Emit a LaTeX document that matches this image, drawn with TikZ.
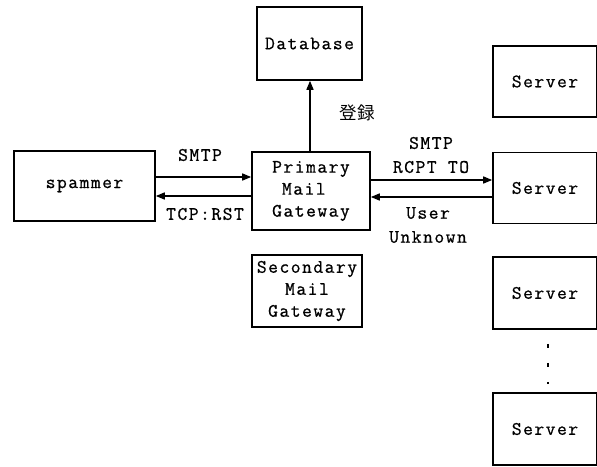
\documentclass[tikz,border=0pt]{standalone}
\usepackage{fontspec}
\setmonofont[LetterSpace=8,FakeBold=0.8]{Latin Modern Mono}
\newfontfamily\jpfont{Noto Sans CJK JP}
\usetikzlibrary{arrows.meta,calc}

\tikzset{
  box/.style={draw, line width=1.6pt, inner sep=0pt,
    font=\ttfamily\fontsize{19}{22}\selectfont, align=center},
  lbl/.style={inner sep=0pt, font=\ttfamily\fontsize{19}{24}\selectfont, align=center},
  arr/.style={line width=1.5pt, -{Triangle[length=9pt,width=7pt]}},
}

\begin{document}
\begin{tikzpicture}[x=1pt, y=-1pt]
  \useasboundingbox (0,0) rectangle (597,466);

  % main boxes
  \node[box, minimum width=141pt, minimum height=70pt] (spam) at (84.5,186) {spammer};
  \node[box, minimum width=118pt, minimum height=78pt, align=left] (prim) at (311,191)
    {Primary\\\hphantom{M}Mail\\Gateway};
  \node[box, minimum width=105pt, minimum height=73pt] (db) at (309.5,43.5) {Database};
  \node[box, minimum width=110pt, minimum height=72pt] (sec) at (307,291)
    {Secondary\\Mail\\Gateway};

  % column of servers (running off the right edge)
  \node[box, minimum width=104pt, minimum height=71pt] (s1) at (545,81.5) {Server};
  \node[box, minimum width=104pt, minimum height=71pt] (s2) at (545,188) {Server};
  \node[box, minimum width=104pt, minimum height=72pt] (s3) at (545,293) {Server};
  \node[box, minimum width=104pt, minimum height=72pt] (s4) at (545,429) {Server};

  % vertical ellipsis between the last servers
  \draw[line width=2.2pt, dash pattern=on 4pt off 15pt]
    ($(s3.south)+(3,14)$) -- ($(s4.north)+(3,-8)$);

  % arrow rows
  \coordinate (ya) at (0,177);
  \coordinate (yb) at (0,196);
  \coordinate (yc) at (0,180);
  \coordinate (yd) at (0,197);

  \draw[arr] (spam.east |- ya) -- (prim.west |- ya);
  \draw[arr] (prim.west |- yb) -- (spam.east |- yb);
  \draw[arr] (prim.east |- yc) -- (s2.west |- yc);
  \draw[arr] (s2.west |- yd) -- (prim.east |- yd);
  \draw[arr] ([xshift=-1pt]prim.north) -- ([xshift=-1pt]prim.north |- db.south);

  % labels
  \node[lbl] (l1) at (200,155) {SMTP};
  \node[lbl] (l2) at (205,214) {TCP:RST};
  \node[lbl] (l3) at (431,155) {SMTP\\RCPT TO};
  \node[lbl] (l4) at (428,225) {User\\Unknown};
  \node[inner sep=0pt, font=\jpfont\fontsize{17.5}{19}\selectfont] (l5) at (357,113) {登録};
\end{tikzpicture}
\end{document}
